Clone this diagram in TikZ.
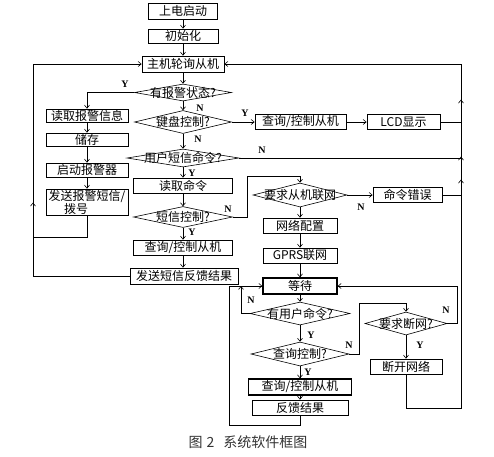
\documentclass[tikz,border=0pt]{standalone}
\usepackage{fontspec}
\setmainfont{Liberation Serif}
\newfontfamily\cjk{Noto Sans CJK SC}
\usetikzlibrary{shapes.geometric,shadows,decorations.markings,arrows.meta}

\begin{document}
\begin{tikzpicture}[x=1pt,y=-1pt,>={Straight Barb[length=3pt,width=5pt]}]
	\tikzset{box/.style={draw,fill=white,line width=0.8pt,inner sep=0pt,minimum height=15pt,
			font=\cjk\fontsize{12}{13}\selectfont,
			drop shadow={shadow xshift=0.9pt,shadow yshift=-0.9pt,opacity=1,fill=black}},
		dia/.style={diamond,draw,line width=0.6pt,inner sep=0pt},
		every label/.style={font=\cjk\fontsize{12}{12}\selectfont,inner sep=0pt},
		yn/.style={font=\bfseries\fontsize{10}{10}\selectfont,inner sep=0pt},
		line/.style={line width=0.6pt},
		flow/.style={line,->},
		upmark/.style={postaction={decorate,decoration={markings,mark=at position #1 with {\arrow{>}}}}}}
	\useasboundingbox (0,0) rectangle (494,456);
	\node [box,minimum width=69pt,minimum height=16pt] (start) at (183,11) {上电启动};
	\node [box,minimum width=70pt,minimum height=14pt] (init) at (183,36) {初始化};
	\node [box,minimum width=82pt,minimum height=16pt] (poll) at (183,64) {主机轮询从机};
	\node [dia,minimum width=97pt,minimum height=17pt,label=center:{有报警状态?}] (q1) at (183,92.5) {};
	\node [box,minimum width=82pt,minimum height=13pt] (rd) at (87,115.5) {读取报警信息};
	\node [box,minimum width=82pt,minimum height=13pt] (store) at (87,139.5) {储存};
	\node [box,minimum width=82pt,minimum height=14pt] (alarm) at (87,170) {启动报警器};
	\node [box,minimum width=82pt,minimum height=26pt,align=center] (send) at (87,202) {发送报警短信/\\拨号\hspace*{22pt}};
	\node [dia,minimum width=97pt,minimum height=23pt,label=center:{键盘控制?}] (q2) at (183,122) {};
	\node [box,minimum width=91pt] (ctl1) at (300.5,122) {查询/控制从机};
	\node [box,minimum width=73pt] (lcd) at (403.5,122) {LCD显示};
	\node [dia,minimum width=112pt,minimum height=18pt,label=center:{用户短信命令?}] (q3) at (183,158) {};
	\node [box,minimum width=99pt] (readcmd) at (183,185.5) {读取命令};
	\node [dia,minimum width=99pt,minimum height=21pt,label=center:{短信控制?}] (q4) at (183,217) {};
	\node [box,minimum width=99pt] (ctl2) at (183,247.5) {查询/控制从机};
	\node [box,minimum width=108pt,minimum height=16pt] (fb) at (184,276) {发送短信反馈结果};
	\node [dia,minimum width=94pt,minimum height=24pt,label=center:{要求从机联网}] (q5) at (300,195) {};
	\node [box,minimum width=69pt] (err) at (407.5,195) {命令错误};
	\node [box,minimum width=74pt] (cfg) at (300,225.5) {网络配置};
	\node [box,minimum width=74pt] (gprs) at (300,255.5) {GPRS联网};
	\node [box,minimum width=74pt,minimum height=16pt,line width=1.4pt] (wait) at (300,286) {等待};
	\node [dia,minimum width=100pt,minimum height=23pt,label=center:{有用户命令?}] (q6) at (300,313.5) {};
	\node [dia,minimum width=98pt,minimum height=24pt,label=center:{查询控制?}] (q7) at (300,354) {};
	\node [box,minimum width=103pt,minimum height=16pt,line width=1.4pt] (ctl3) at (300,387) {查询/控制从机};
	\node [box,minimum width=96pt] (res) at (300,407.5) {反馈结果};
	\node [dia,minimum width=82pt,minimum height=23pt,label=center:{要求断网?}] (q8) at (406,323.5) {};
	\node [box,minimum width=72pt] (disc) at (406,366.5) {断开网络};
	\node [font=\cjk\fontsize{14}{14}\selectfont,text=black!80] (cap) at (248,442) {图\hspace{4pt}2\hspace{9pt}系统软件框图};
	\node [yn] (y1) at (125,84) {Y};
	\node [yn] (n1) at (200,108) {N};
	\node [yn] (y2) at (245,113) {Y};
	\node [yn] (n2) at (198,139) {N};
	\node [yn] (n3) at (262,150) {N};
	\node [yn] (y3) at (192,173) {Y};
	\node [yn] (n4) at (228,209) {N};
	\node [yn] (y4) at (192,232) {Y};
	\node [yn] (n5) at (361,207) {N};
	\node [yn] (n6) at (251,300) {N};
	\node [yn] (y6) at (311,335) {Y};
	\node [yn] (n7) at (349,345) {N};
	\node [yn] (y7) at (308,372) {Y};
	\node [yn] (n8) at (446,310) {N};
	\node [yn] (y8) at (420,345) {Y};
	\coordinate (ltop) at (33,64);
	\coordinate (lbot) at (33,276);
	\coordinate (ljoin) at (33,237);
	\coordinate (rtop) at (461,64);
	\coordinate (rbot) at (461,408);
	\coordinate (nup) at (247,176);
	\coordinate (wleft) at (241,286);
	\coordinate (wloop) at (229,286);
	\coordinate (nmid) at (359,303);
	\coordinate (nright) at (457,286);
	\draw [flow] (start) -- (init);
	\draw [flow] (init) -- (poll);
	\draw [flow] (poll) -- (q1);
	\draw [flow] (q1.west) -| (rd.north);
	\draw [flow] (rd) -- (store);
	\draw [flow] (store) -- (alarm);
	\draw [flow] (alarm) -- (send);
	\draw [line] (send.south) |- (ljoin);
	\draw [flow,upmark=170pt] (fb.west) -- (lbot) -- (ltop) -- (poll.west);
	\draw [flow] (q1) -- (q2);
	\draw [flow] (q2.east) -- (ctl1.west);
	\draw [flow] (ctl1) -- (lcd);
	\draw [line] (lcd.east) -- (lcd.east -| rtop);
	\draw [flow] (q2) -- (q3);
	\draw [line] (q3.east) -- (q3.east -| rtop);
	\draw [flow] (q3) -- (readcmd);
	\draw [flow] (readcmd) -- (q4);
	\draw [flow] (q4) -- (ctl2);
	\draw [flow] (ctl2) -- (ctl2 |- fb.north);
	\draw [flow] (q4.east) -| (nup) -| (q5.north);
	\draw [flow] (q5) -- (err);
	\draw [line] (err.east) -- (err.east -| rtop);
	\draw [flow] (q5) -- (cfg);
	\draw [flow] (cfg) -- (gprs);
	\draw [flow] (gprs) -- (wait);
	\draw [flow] (wait) -- (q6);
	\draw [flow] (q6.west) -| (wleft);
	\draw [flow] (q6) -- (q7);
	\draw [flow] (q7) -- (ctl3);
	\draw [flow] (ctl3) -- (res);
	\draw [flow] (res.south) -- ++(0,10) -| (wloop) -- (wait.west);
	\draw [flow] (q7.east) -| (nmid) -| (q8.north);
	\draw [flow] (q8.east) -| (nright) -- (wait.east);
	\draw [flow] (q8) -- (disc);
	\draw [flow,upmark=317pt,upmark=340pt,upmark=397pt] (disc.south) |- (rbot) -- (rtop) -- (poll.east);
\end{tikzpicture}
\end{document}
